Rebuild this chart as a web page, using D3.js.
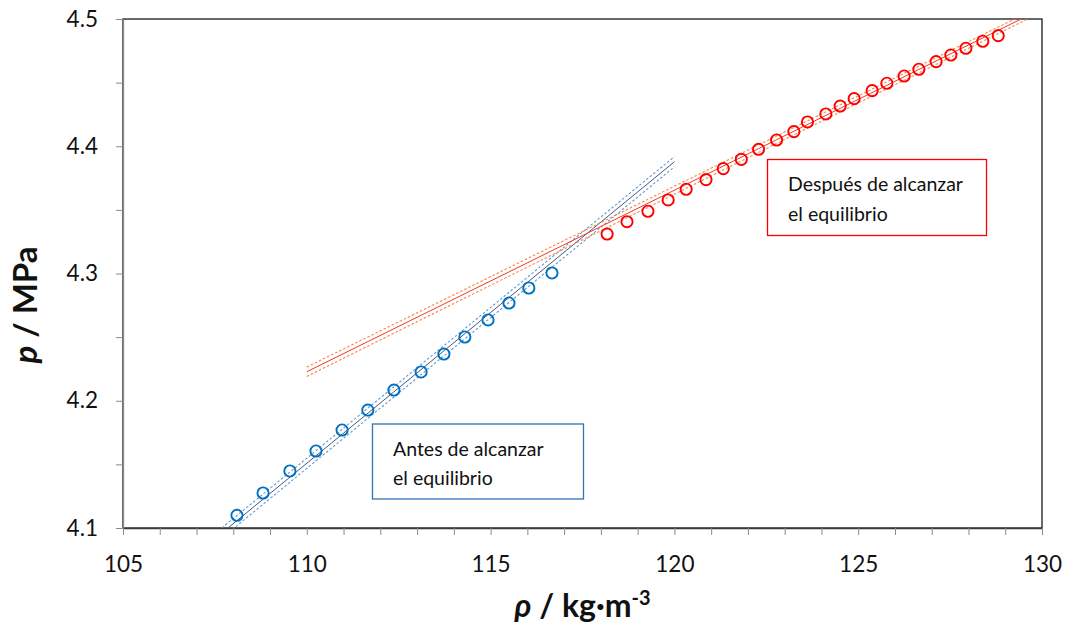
<!DOCTYPE html>
<html>
<head>
<meta charset="utf-8">
<script src="https://cdn.jsdelivr.net/npm/d3@7"></script>
<style>
  html, body { margin: 0; padding: 0; background: #fff; }
  svg { display: block; font-family: Lato, "Open Sans", sans-serif; }
</style>
</head>
<body>
<svg id="chart" width="1070" height="632"></svg>
<script>
// Density (kg/m3) and pressure (MPa) readings before equilibrium
const rhoBefore = [108.10, 108.81, 109.54, 110.25, 110.96, 111.66, 112.37, 113.11, 113.73, 114.30, 114.93, 115.50, 116.04, 116.67];
const pBefore   = [4.110, 4.1275, 4.1448, 4.1605, 4.177, 4.1927, 4.2084, 4.2226, 4.2367, 4.2501, 4.2635, 4.2768, 4.2886, 4.3004];

// Readings after equilibrium
const rhoAfter = [118.17, 118.71, 119.28, 119.83, 120.32, 120.86, 121.33, 121.82, 122.29, 122.78, 123.25, 123.62,
                  124.12, 124.51, 124.89, 125.38, 125.78, 126.25, 126.65, 127.12, 127.52, 127.93, 128.39, 128.81];
const pAfter   = [4.3310, 4.3407, 4.3489, 4.3578, 4.3662, 4.3738, 4.3824, 4.3897, 4.3976, 4.4049, 4.4115, 4.4191,
                  4.4254, 4.4316, 4.4374, 4.4437, 4.4495, 4.4552, 4.4605, 4.4665, 4.4717, 4.4770, 4.4825, 4.4869];

// Fitted lines with their bands (end points)
const fitBeforeRho   = [107.5, 120.0];
const fitBeforeP     = [4.0916, 4.3878];
const fitBeforeUpper = [4.0956, 4.3918];
const fitBeforeLower = [4.0876, 4.3838];

const fitAfterRho   = [110.0, 130.0];
const fitAfterP     = [4.2228, 4.5081];
const fitAfterUpper = [4.2265, 4.5106];
const fitAfterLower = [4.2191, 4.5056];

// Axis ticks
const xTicks  = d3.range(105, 131, 1);
const xLabels = [105, 110, 115, 120, 125, 130];
const yTicks  = [4.1, 4.15, 4.2, 4.25, 4.3, 4.35, 4.4, 4.45, 4.5];
const yLabels = [4.1, 4.2, 4.3, 4.4, 4.5];

const labelBefore = ["Antes de alcanzar", "el equilibrio"];
const labelAfter  = ["Después de alcanzar", "el equilibrio"];

const W = 1070, H = 632;
const margin = { left: 123, top: 19, right: 28, bottom: 104 };
const svg = d3.select("#chart");

const x = d3.scaleLinear().domain([105, 130]).range([margin.left, W - margin.right]);
const y = d3.scaleLinear().domain([4.1, 4.5]).range([H - margin.bottom, margin.top]);

svg.append("defs").append("clipPath").attr("id", "plotClip")
  .append("rect")
  .attr("x", x(105)).attr("y", y(4.5))
  .attr("width", x(130) - x(105)).attr("height", y(4.1) - y(4.5));

// Plot frame
svg.append("rect")
  .attr("x", x(105)).attr("y", y(4.5))
  .attr("width", x(130) - x(105)).attr("height", y(4.1) - y(4.5))
  .attr("fill", "none").attr("stroke", "#1a1a1a").attr("stroke-width", 1.3);

// X axis
const xAxis = d3.axisBottom(x)
  .tickValues(xTicks)
  .tickSize(7).tickSizeOuter(0)
  .tickFormat(d => xLabels.includes(d) ? String(d) : "");
const gx = svg.append("g").attr("transform", `translate(0,${y(4.1)})`).call(xAxis);
gx.select(".domain").attr("stroke", "#3a3a3a").attr("stroke-width", 1.3);
gx.selectAll(".tick line").attr("stroke", "#8a8a8a");
gx.selectAll(".tick text")
  .attr("y", 44).attr("dy", null)
  .attr("font-size", 22.5).attr("fill", "#111")
  .attr("font-family", "Lato, sans-serif");

// Y axis
const yAxis = d3.axisLeft(y)
  .tickValues(yTicks)
  .tickSize(7).tickSizeOuter(0).tickPadding(18)
  .tickFormat(d => yLabels.some(v => Math.abs(v - d) < 1e-9) ? d3.format(".1f")(d) : "");
const gy = svg.append("g").attr("transform", `translate(${x(105)},0)`).call(yAxis);
gy.select(".domain").attr("stroke", "#8a8a8a").attr("stroke-width", 1.3);
gy.selectAll(".tick line").attr("stroke", "#8a8a8a");
gy.selectAll(".tick text")
  .attr("font-size", 22.5).attr("fill", "#111")
  .attr("font-family", "Lato, sans-serif");

// Fit lines
const plot = svg.append("g").attr("clip-path", "url(#plotClip)");
const line = d3.line().x(d => x(d[0])).y(d => y(d[1]));

function drawFit(rho, vals, color, width, dash) {
  plot.append("path")
    .datum(d3.zip(rho, vals))
    .attr("d", line)
    .attr("fill", "none")
    .attr("stroke", color)
    .attr("stroke-width", width)
    .attr("stroke-dasharray", dash);
}

drawFit(fitBeforeRho, fitBeforeUpper, "#5b9bd5", 1.1, "2.5,2");
drawFit(fitBeforeRho, fitBeforeLower, "#5b9bd5", 1.1, "2.5,2");
drawFit(fitBeforeRho, fitBeforeP, "#4a5878", 1, null);

drawFit(fitAfterRho, fitAfterUpper, "#f08a3c", 1.1, "2.5,2");
drawFit(fitAfterRho, fitAfterLower, "#f08a3c", 1.1, "2.5,2");
drawFit(fitAfterRho, fitAfterP, "#ff3030", 1, null);

// Markers
svg.append("g").selectAll("circle")
  .data(d3.zip(rhoBefore, pBefore))
  .join("circle")
  .attr("cx", d => x(d[0])).attr("cy", d => y(d[1]))
  .attr("r", 5.6)
  .attr("fill", "none").attr("stroke", "#0070c0").attr("stroke-width", 1.9);

svg.append("g").selectAll("circle")
  .data(d3.zip(rhoAfter, pAfter))
  .join("circle")
  .attr("cx", d => x(d[0])).attr("cy", d => y(d[1]))
  .attr("r", 5.6)
  .attr("fill", "none").attr("stroke", "#ff0000").attr("stroke-width", 1.9);

// Annotation boxes
function noteBox(bx, by, bw, bh, color, lines, tx, ty, gap) {
  const g = svg.append("g");
  g.append("rect")
    .attr("x", bx).attr("y", by).attr("width", bw).attr("height", bh)
    .attr("fill", "#fff").attr("stroke", color).attr("stroke-width", 1.3);
  const t = g.append("text")
    .attr("font-size", 19.5).attr("fill", "#111")
    .attr("font-family", "Lato, sans-serif");
  lines.forEach((s, i) => {
    t.append("tspan").attr("x", tx).attr("y", ty + i * gap).text(s);
  });
}
noteBox(372.5, 424, 211, 75, "#2e75b6", labelBefore, 393, 456, 28.5);
noteBox(767.5, 159.5, 219, 76, "#ff0000", labelAfter, 788, 191, 29.5);

// Axis titles
const xt = svg.append("text")
  .attr("x", (x(105) + x(130)) / 2).attr("y", 617)
  .attr("text-anchor", "middle")
  .attr("font-size", 32).attr("font-weight", "bold").attr("fill", "#111")
  .attr("font-family", "Lato, sans-serif");
xt.append("tspan").attr("font-style", "italic").text("ρ");
xt.append("tspan").text(" / kg·m");
xt.append("tspan").attr("font-size", 20).attr("dy", -12).text("-3");

const yt = svg.append("text")
  .attr("transform", "translate(37,305) rotate(-90)")
  .attr("text-anchor", "middle")
  .attr("font-size", 33).attr("font-weight", "bold").attr("fill", "#111")
  .attr("font-family", "Lato, sans-serif");
yt.append("tspan").attr("font-style", "italic").text("p");
yt.append("tspan").text(" / MPa");
</script>
</body>
</html>
